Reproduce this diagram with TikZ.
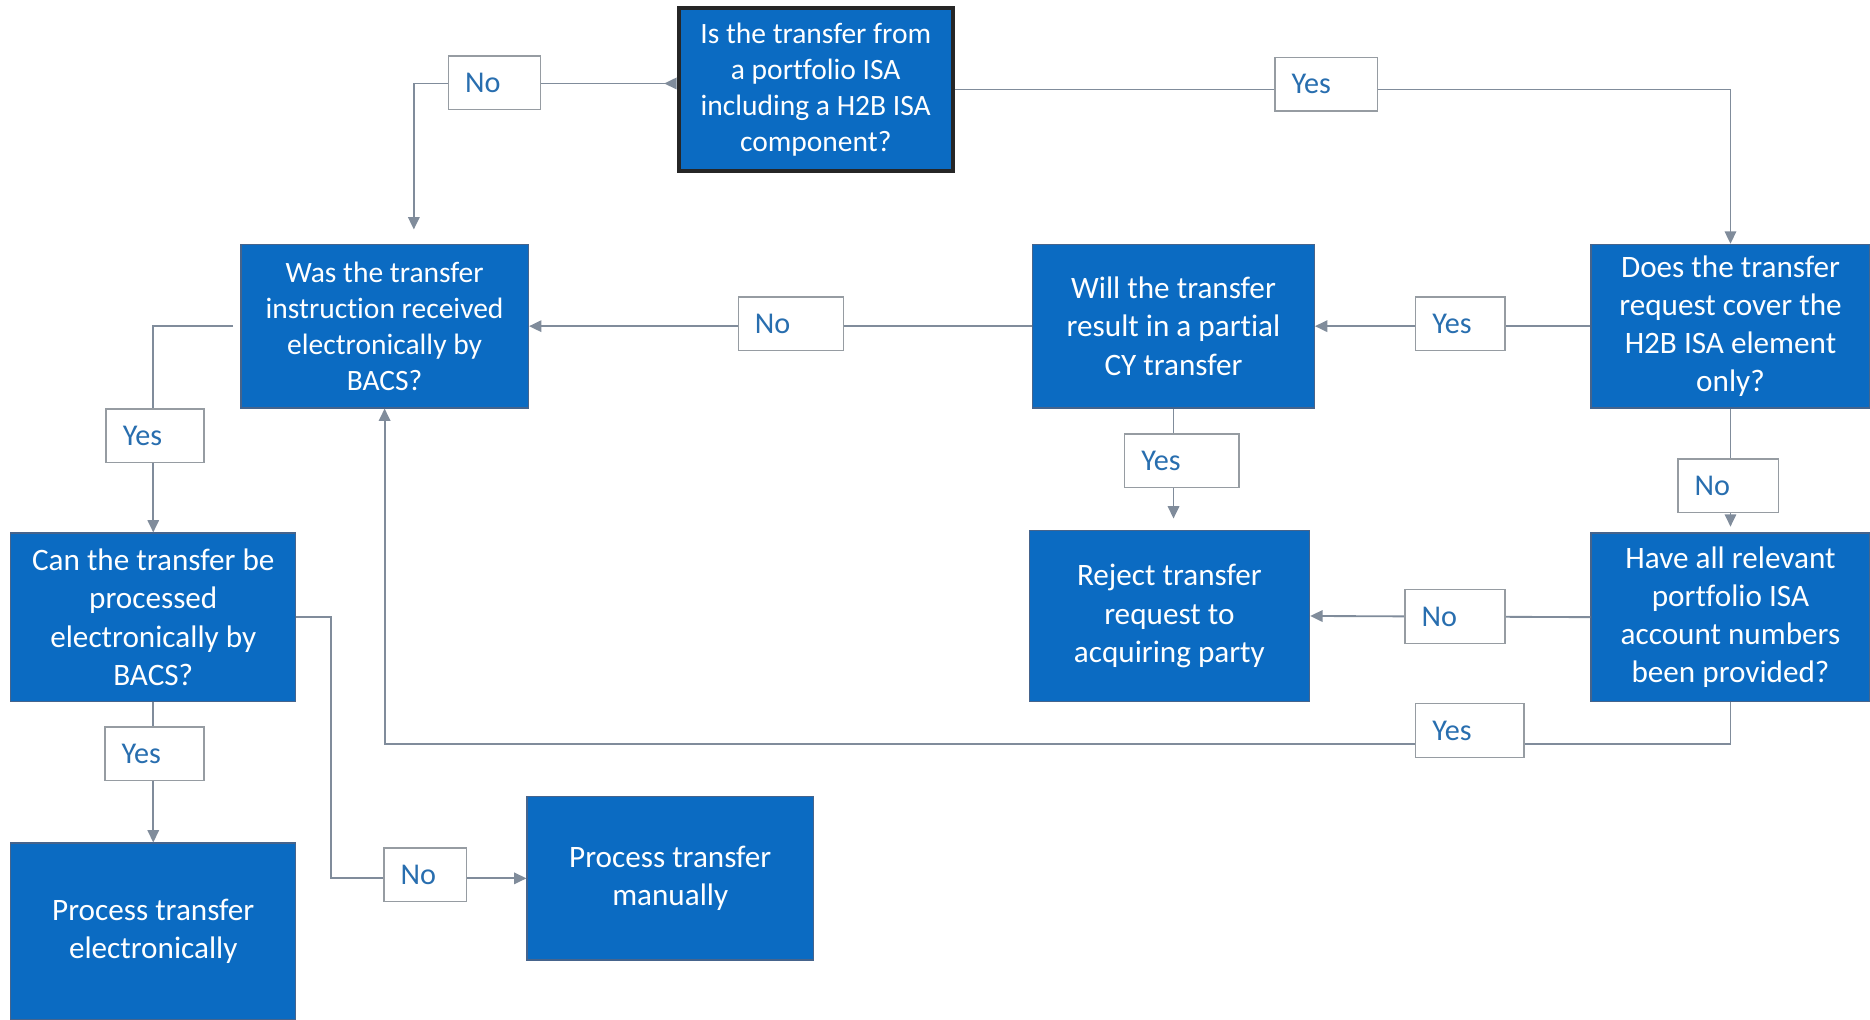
\documentclass[tikz,border=0pt]{standalone}
\usepackage{fontspec}
\setmainfont{Carlito}[Ligatures=NoCommon]
\usepackage{tikz}
\usetikzlibrary{arrows.meta,calc}
\definecolor{boxblue}{RGB}{11,107,194}
\definecolor{boxline}{RGB}{70,100,140}
\definecolor{connline}{RGB}{128,140,155}
\definecolor{lblline}{RGB}{150,156,162}
\definecolor{lbltext}{RGB}{40,110,175}

\begin{document}
\begin{tikzpicture}[
           box/.style={fill=boxblue,draw=boxline,line width=0.4pt,text=white,align=center,inner sep=0pt,font=\fontsize{9.3}{11.4}\selectfont},
           lbl/.style={fill=white,draw=lblline,line width=0.4pt,text=lbltext,text width=#1,align=left,inner xsep=0.175cm,inner ysep=0pt,minimum height=0.5625cm,font=\fontsize{9}{11}\selectfont},
           conn/.style={draw=connline,line width=0.55pt},
           arr/.style={-{Triangle[length=0.13cm,width=0.12cm]}}]
           \useasboundingbox (0,0) rectangle (19.6,-10.6875);
           % boxes
           \node[box,draw=black!85,line width=1.2pt,font=\fontsize{8.8}{10.7}\selectfont,minimum width=2.875cm,minimum height=1.7cm] (q1) at (8.55,-0.9375) {Is the transfer from\\a portfolio ISA\\including a H2B ISA\\component?};
           \node[box,font=\fontsize{8.8}{10.7}\selectfont,minimum width=3.0125cm,minimum height=1.7125cm] (q2) at (4.03125,-3.41875) {Was the transfer\\instruction received\\electronically by\\BACS?};
           \node[box,minimum width=2.95cm,minimum height=1.7125cm] (q3) at (12.3,-3.41875) {Will the transfer\\result in a partial\\CY transfer};
           \node[box,minimum width=2.925cm,minimum height=1.7125cm] (q4) at (18.1375,-3.41875) {Does the transfer\\request cover the\\H2B ISA element\\only?};
           \node[box,minimum width=2.925cm,minimum height=1.7625cm] (q5) at (18.1375,-6.46875) {Have all relevant\\portfolio ISA\\account numbers\\been provided?};
           \node[box,minimum width=2.9375cm,minimum height=1.7875cm] (rej) at (12.25625,-6.45625) {Reject transfer\\request to\\acquiring party};
           \node[box,minimum width=2.9875cm,minimum height=1.7625cm] (q6) at (1.60625,-6.46875) {Can the transfer be\\processed\\electronically by\\BACS?};
           \node[box,minimum width=2.9875cm,minimum height=1.85cm] (elec) at (1.60625,-9.7625) {Process transfer\\electronically};
           \node[box,minimum width=3cm,minimum height=1.7125cm] (man) at (7.025,-9.20625) {Process transfer\\manually};
           % connectors
           \draw[conn,{Triangle[reversed,length=0.13cm,width=0.12cm]}-{Triangle[length=0.13cm,width=0.12cm]},shorten >=0.15cm] ([yshift=0.0625cm]q1.west) -| ([xshift=0.30625cm]q2.north);
           \draw[conn,arr] (q1.east) -| (q4.north);
           \draw[conn,arr] (q4.west) -- (q3.east);
           \draw[conn,arr] (q3.west) -- (q2.east);
           \draw[conn,arr,shorten >=0.12cm] (q3.south) -- (q3.south |- rej.north);
           \draw[conn,arr,shorten >=0.06cm] (q4.south) -- (q5.north);
           \draw[conn,arr] (q5.west) -- (rej.east);
           \draw[conn,arr] (q5.south) -- ++(0,-0.4375) -| (q2.south);
           \draw[conn,arr,shorten <=0.075cm] (q2.west) -| (q6.north);
           \draw[conn,arr] (q6.south) -- (elec.north);
           \draw[conn,arr] (q6.east) -- ++(0.3625,0) |- (man.west);
           % labels
           \node[lbl=0.6125cm] (no1) at (5.18125,-0.86875) {No};
           \node[lbl=0.725cm] (yes1) at (13.9,-0.88125) {Yes};
           \node[lbl=0.75cm] (no2) at (8.2875,-3.39375) {No};
           \node[lbl=0.5875cm] (yes2) at (15.30625,-3.39375) {Yes};
           \node[lbl=0.85cm] (yes3) at (12.3875,-4.83125) {Yes};
           \node[lbl=0.7cm] (no3) at (18.1125,-5.09375) {No};
           \node[lbl=0.7cm] (no4) at (15.25,-6.4625) {No};
           \node[lbl=0.7875cm] (yes4) at (15.40625,-7.65625) {Yes};
           \node[lbl=0.675cm] (yes5) at (1.625,-4.56875) {Yes};
           \node[lbl=0.6875cm] (yes6) at (1.61875,-7.9) {Yes};
           \node[lbl=0.5125cm] (no5) at (4.45625,-9.16875) {No};
        \end{tikzpicture}
\end{document}
